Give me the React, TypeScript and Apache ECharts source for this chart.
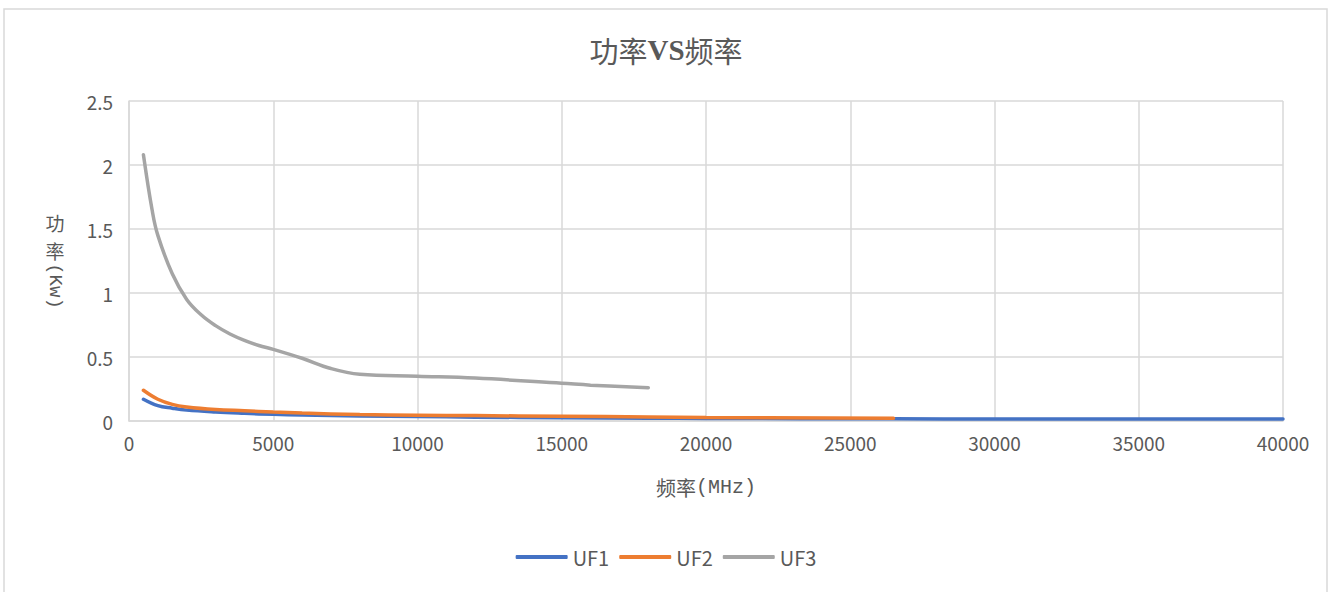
import React, { useEffect, useRef } from "react";
import * as echarts from "echarts";

const freqUF1 = [500, 1000, 1500, 2000, 3000, 4000, 5000, 6000, 8000, 10000, 12000, 15000, 18000, 20000, 26500, 30000, 40000];
const powerUF1 = [0.17, 0.12, 0.1, 0.085, 0.07, 0.06, 0.052, 0.047, 0.04, 0.035, 0.03, 0.026, 0.022, 0.02, 0.017, 0.016, 0.015];

const freqUF2 = [500, 1000, 1500, 2000, 3000, 4000, 5000, 6000, 8000, 10000, 12000, 15000, 18000, 20000, 26500];
const powerUF2 = [0.24, 0.17, 0.13, 0.11, 0.09, 0.08, 0.07, 0.062, 0.05, 0.045, 0.042, 0.037, 0.032, 0.028, 0.022];

const freqUF3 = [500, 800, 1000, 1500, 2000, 2500, 3000, 3500, 4000, 4500, 5000, 6000, 7000, 8000, 10000, 12000, 15000, 16000, 18000];
const powerUF3 = [2.08, 1.65, 1.45, 1.15, 0.95, 0.83, 0.745, 0.68, 0.63, 0.59, 0.56, 0.49, 0.41, 0.365, 0.35, 0.335, 0.295, 0.28, 0.26];

const seriesNames = ["UF1", "UF2", "UF3"];
const colors = ["#4472C4", "#ED7D31", "#A5A5A5"];

const FONT = "'Noto Sans CJK SC', 'Noto Sans', sans-serif";
const SERIF = "'Liberation Serif', 'DejaVu Serif', serif";
const MONO = "'Liberation Mono', 'DejaVu Sans Mono', monospace";

const zip = (xs: number[], ys: number[]) => xs.map((x, i) => [x, ys[i]]);

export default function App() {
  const ref = useRef<HTMLDivElement>(null);
  useEffect(() => {
    document.body.style.margin = "0";
    const chart = echarts.init(ref.current!, null, { renderer: "svg" });
    const datas = [zip(freqUF1, powerUF1), zip(freqUF2, powerUF2), zip(freqUF3, powerUF3)];
    chart.setOption({
      animation: false,
      backgroundColor: "#ffffff",
      title: {
        text: "{c|功率}{s|VS}{c|频率}",
        left: "center",
        top: 30,
        textStyle: {
          color: "#595959",
          rich: {
            c: { fontFamily: FONT, fontSize: 29, fontWeight: "normal", color: "#595959" },
            s: { fontFamily: SERIF, fontSize: 29, fontWeight: "bold", color: "#595959" },
          },
        },
      },
      legend: {
        bottom: 20,
        left: "center",
        itemWidth: 52,
        itemHeight: 4,
        itemGap: 10,
        icon: "roundRect",
        textStyle: { fontFamily: FONT, fontSize: 20, color: "#595959" },
        data: seriesNames,
      },
      grid: { left: 129, right: 49, top: 101, bottom: 171 },
      xAxis: {
        type: "value",
        min: 0,
        max: 40000,
        interval: 5000,
        name: "{c|频率}{m|(MHz)}",
        nameLocation: "middle",
        nameGap: 56,
        nameTextStyle: {
          color: "#595959",
          rich: {
            c: { fontFamily: FONT, fontSize: 20, color: "#595959" },
            m: { fontFamily: MONO, fontSize: 20, color: "#595959" },
          },
        },
        axisLine: { show: true, lineStyle: { color: "#d9d9d9", width: 1.5 } },
        axisTick: { show: false },
        axisLabel: { fontFamily: FONT, fontSize: 19, color: "#595959", margin: 12, formatter: (v: number) => String(v) },
        splitLine: { show: true, lineStyle: { color: "#d9d9d9", width: 1.5 } },
      },
      yAxis: {
        type: "value",
        min: 0,
        max: 2.5,
        interval: 0.5,
        axisLine: { show: true, lineStyle: { color: "#d9d9d9", width: 1.5 } },
        axisTick: { show: false },
        axisLabel: { fontFamily: FONT, fontSize: 19, color: "#595959", margin: 16 },
        splitLine: { show: true, lineStyle: { color: "#d9d9d9", width: 1.5 } },
      },
      graphic: [
        {
          type: "rect",
          shape: { x: 4, y: 9, width: 1323, height: 620 },
          style: { fill: "none", stroke: "#d9d9d9", lineWidth: 1.5 },
          silent: true,
          z: -10,
        },
        {
          type: "text",
          x: 55,
          y: 222,
          style: { text: "功", fontFamily: FONT, fontSize: 19, fill: "#595959", textAlign: "center", textVerticalAlign: "middle" },
        },
        {
          type: "text",
          x: 55,
          y: 250,
          style: { text: "率", fontFamily: FONT, fontSize: 19, fill: "#595959", textAlign: "center", textVerticalAlign: "middle" },
        },
        {
          type: "text",
          x: 55,
          y: 286,
          rotation: -Math.PI / 2,
          style: { text: "(Kw)", fontFamily: MONO, fontSize: 19, fill: "#595959", textAlign: "center", textVerticalAlign: "middle" },
        },
      ],
      series: seriesNames.map((name, i) => ({
        name,
        type: "line",
        data: datas[i],
        smooth: 0.4,
        showSymbol: false,
        symbol: "none",
        lineStyle: { color: colors[i], width: 3.5, cap: "round" },
        itemStyle: { color: colors[i] },
        z: 2 + i,
      })),
    });
    return () => chart.dispose();
  }, []);
  return <div ref={ref} style={{ width: 1332, height: 592 }} />;
}
